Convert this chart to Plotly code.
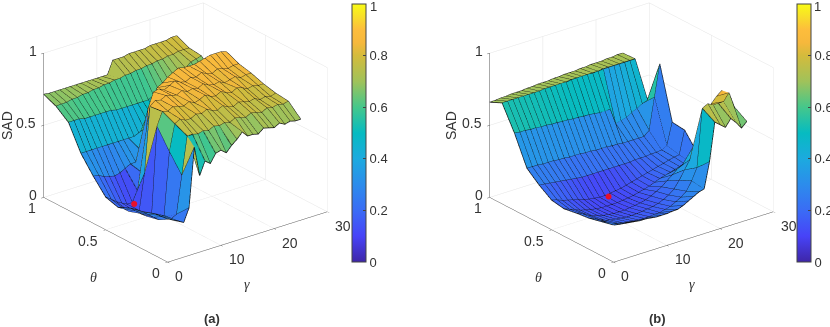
import plotly.graph_objects as go

GAMMA = list(range(26))
THETA = [0, .1, .2, .3, .4, .5, .6, .7, .8, .9, 1]
GAMMA_TICKS = [0, 10, 20, 30]
THETA_TICKS = [0, .5, 1]
Z_TICKS = [0, .5, 1]
CB_TICKS = [0, .2, .4, .6, .8]
RED_A = (3, .4, .19)
RED_B = (9.5, .45, .143)

SAD_A = [
 [.30,.28,.26,.24,.33,.74,.53,.62,.59,.65,.66,.63,.67,.70,.74,.70,.70,.69,.72,.71,.70,.72,.70,.71,.70,.70],
 [.29,.27,.25,.22,.24,.50,.76,.76,.75,.76,.75,.77,.76,.77,.76,.78,.77,.76,.78,.77,.76,.78,.77,.78,.77,.78],
 [.26,.23,.20,.17,.18,.62,.80,.82,.80,.80,.82,.81,.83,.81,.80,.82,.80,.79,.81,.80,.79,.80,.78,.79,.78,.79],
 [.24,.21,.18,.15,.15,.75,.84,.83,.85,.84,.83,.85,.83,.84,.86,.84,.83,.85,.83,.82,.84,.83,.81,.82,.81,.81],
 [.20,.18,.15,.14,.13,.38,.83,.86,.85,.87,.86,.85,.87,.85,.86,.85,.87,.85,.84,.85,.83,.84,.85,.83,.84,.84],
 [.226,.20,.17,.15,.13,.13,.20,.31,.75,.85,.86,.84,.86,.88,.86,.85,.87,.86,.88,.86,.85,.87,.86,.85,.86,.86],
 [.326,.32,.30,.29,.28,.29,.31,.33,.33,.40,.55,.70,.80,.82,.85,.87,.89,.88,.88,.88,.89,.90,.91,.91,.91,.90],
 [.44,.44,.44,.44,.44,.44,.44,.44,.44,.44,.44,.44,.46,.48,.50,.52,.54,.56,.58,.60,.62,.64,.65,.66,.67,.68],
 [.61,.61,.61,.60,.60,.60,.60,.60,.60,.59,.59,.59,.59,.59,.59,.59,.61,.63,.65,.67,.69,.71,.73,.76,.77,.78],
 [.677,.68,.68,.69,.69,.70,.70,.71,.71,.72,.72,.73,.73,.74,.74,.75,.75,.76,.76,.77,.77,.78,.78,.79,.79,.79],
 [.715,.71,.71,.71,.71,.71,.71,.71,.71,.71,.71,.71,.71,.80,.80,.80,.81,.81,.81,.81,.82,.82,.82,.82,.83,.83],
]
SAD_B = [
 [.257,.25,.245,.24,.235,.23,.23,.225,.22,.22,.22,.225,.226,.24,.26,.28,.30,.31,.486,.75,.72,.69,.74,.70,.65,.684],
 [.236,.22,.20,.19,.18,.175,.17,.165,.165,.165,.17,.17,.18,.19,.21,.23,.26,.32,.40,.80,.82,.80,.80,.80,.85,.74],
 [.215,.20,.18,.165,.155,.15,.145,.14,.14,.14,.145,.15,.155,.165,.18,.20,.23,.28,.34,.40,.50,.58,.64,.74,.78,.81],
 [.205,.19,.17,.15,.14,.13,.125,.12,.12,.12,.125,.13,.135,.145,.16,.18,.20,.23,.26,.29,.31,.33,.35,.37,.39,.40],
 [.19,.175,.16,.145,.135,.125,.12,.115,.115,.115,.115,.12,.125,.13,.14,.15,.16,.175,.19,.20,.21,.215,.22,.225,.23,.29],
 [.205,.195,.18,.17,.16,.15,.14,.13,.125,.12,.12,.125,.13,.135,.145,.155,.165,.175,.185,.195,.205,.215,.225,.235,.24,.40],
 [.264,.26,.255,.25,.245,.24,.235,.23,.225,.225,.225,.225,.225,.225,.225,.225,.225,.225,.23,.23,.23,.235,.235,.24,.26,.41],
 [.337,.335,.335,.33,.33,.33,.325,.325,.32,.32,.32,.315,.315,.31,.31,.31,.305,.305,.30,.30,.30,.30,.30,.33,.55,.77],
 [.535,.53,.53,.525,.525,.52,.52,.515,.515,.51,.51,.505,.505,.50,.50,.495,.49,.49,.49,.38,.39,.40,.42,.44,.46,.476],
 [.70,.70,.70,.70,.70,.70,.70,.70,.705,.705,.705,.705,.705,.71,.71,.71,.71,.71,.71,.715,.715,.715,.715,.715,.715,.715],
 [.66,.66,.665,.665,.67,.67,.67,.675,.675,.68,.68,.68,.685,.685,.69,.69,.69,.695,.695,.70,.70,.70,.705,.705,.71,.71],
]

PARULA = [[0,'#3E26A8'],[.1,'#4743F8'],[.2,'#3A6CF5'],[.3,'#2C8CEC'],[.4,'#1CAADF'],[.5,'#06BBC1'],
          [.6,'#45C78B'],[.7,'#A0C25A'],[.8,'#D4BB3C'],[.85,'#F6B83C'],[.9,'#FDBD3C'],[.95,'#F8DE2A'],[1,'#F9FB15']]

def panel(Z, scene, red, cbx):
    xs, ys, zs = [], [], []
    for i, t in enumerate(THETA):
        for j, g in enumerate(GAMMA):
            xs.append(g); ys.append(t); zs.append(Z[i][j])
    nc = len(GAMMA)
    I, J, K, C = [], [], [], []
    for i in range(len(THETA) - 1):
        for j in range(nc - 1):
            a = i*nc + j; b = a + 1; c = a + nc + 1; d = a + nc
            I += [a, a]; J += [b, c]; K += [c, d]
            C += [Z[i][j], Z[i][j]]
    mesh = go.Mesh3d(x=xs, y=ys, z=zs, i=I, j=J, k=K, intensity=C, intensitymode='cell',
                     colorscale=PARULA, cmin=0, cmax=1, scene=scene, flatshading=True, hoverinfo='skip', showscale=False,
                     lighting=dict(ambient=1, diffuse=0, specular=0, roughness=1, fresnel=0))
    lx, ly, lz = [], [], []
    for i, t in enumerate(THETA):
        for j, g in enumerate(GAMMA):
            lx.append(g); ly.append(t); lz.append(Z[i][j])
        lx.append(None); ly.append(None); lz.append(None)
    for j, g in enumerate(GAMMA):
        for i, t in enumerate(THETA):
            lx.append(g); ly.append(t); lz.append(Z[i][j])
        lx.append(None); ly.append(None); lz.append(None)
    grid = go.Scatter3d(x=lx, y=ly, z=lz, mode='lines', line=dict(color='#111', width=1.5), scene=scene,
                        hoverinfo='skip', showlegend=False)
    dot = go.Scatter3d(x=[red[0]], y=[red[1]], z=[red[2]], mode='markers', marker=dict(color='#E8102A', size=3.5),
                       scene=scene, hoverinfo='skip', showlegend=False)
    bar = go.Scatter3d(x=[0, 0], y=[0, 0], z=[0, 0], mode='markers', scene=scene, hoverinfo='skip', showlegend=False,
                       marker=dict(size=1, opacity=0, color=[0, 1], cmin=0, cmax=1, colorscale=PARULA, showscale=True,
                                   colorbar=dict(x=cbx, xanchor='left', y=1-4/327, yanchor='top', len=258, lenmode='pixels',
                                   thickness=14, thicknessmode='pixels', tickvals=CB_TICKS, ticktext=['0','0.2','0.4','0.6','0.8'],
                                   ticks='inside', ticklen=3, tickcolor='#444', outlinecolor='#444', outlinewidth=1,
                                   tickfont=dict(family='Liberation Sans', size=13, color='#333'), xpad=0, ypad=0)))
    return [mesh, grid, dot, bar]

def axis(rng, vals):
    return dict(range=rng, tickvals=vals, showticklabels=False, title=dict(text=''), showbackground=False,
                gridcolor='#E4E4E4', gridwidth=1, showline=True, linecolor='#555', linewidth=1,
                ticks='outside', ticklen=3, tickcolor='#555', zeroline=False, showspikes=False)

def lab(x, y, z, text, xs, ys):
    return dict(x=x, y=y, z=z, text=text, showarrow=False, xshift=xs, yshift=-ys,
                font=dict(family='Liberation Sans', size=14, color='#333'))

def tick_notes():
    out = []
    for g in GAMMA_TICKS:
        out.append(lab(g, 0, 0, str(g), 16 if g else 11, 14))
    for t in THETA_TICKS:
        out.append(lab(0, t, 0, f'{t:g}', -18 if t == .5 else -12, 11))
    for z in Z_TICKS:
        out.append(lab(0, 1, z, f'{z:g}', -18 if z == .5 else -11, -2))
    return out

def scene_cfg(dom_x):
    return dict(domain=dict(x=dom_x, y=[.1896, 1]), aspectmode='manual', aspectratio=dict(x=1.5255, y=1.5255, z=1.1906),
                camera=dict(projection=dict(type='orthographic'), eye=dict(x=-1.12, y=-1.44, z=.81),
                            center=dict(x=0, y=0, z=0), up=dict(x=0, y=0, z=1)),
                xaxis=axis([0, 30], GAMMA_TICKS),
                yaxis=axis([0, 1], THETA_TICKS),
                zaxis=axis([0, 1], Z_TICKS),
                annotations=tick_notes())

def note(x, y, text, size=14, family='Liberation Sans', angle=0):
    return dict(x=x/830, y=1-y/327, xref='paper', yref='paper', text=text, showarrow=False, textangle=angle,
                xanchor='center', yanchor='middle', font=dict(family=family, size=size, color='#333'))

fig = go.Figure(panel(SAD_A, 'scene', RED_A, 352/830) + panel(SAD_B, 'scene2', RED_B, 797/830))
fig.update_layout(width=830, height=327, margin=dict(l=0, r=0, t=0, b=0, autoexpand=False), paper_bgcolor='white', showlegend=False,
                  scene=scene_cfg([0, .447]), scene2=scene_cfg([.5361, .9855]),
                  annotations=[note(7, 126, 'SAD', angle=-90), note(451, 126, 'SAD', angle=-90),
                               note(93, 277, '<i>θ</i>', family='Liberation Serif'), note(538, 277, '<i>θ</i>', family='Liberation Serif'),
                               note(247, 284, '<i>γ</i>', family='Liberation Serif'), note(692, 284, '<i>γ</i>', family='Liberation Serif'),
                               note(212, 318, '<b>(a)</b>', size=13), note(657, 318, '<b>(b)</b>', size=13),
                               note(373, 6, '1', size=13), note(817, 6, '1', size=13)])
fig.write_html('out.html', post_script="document.body.style.margin='0';", config=dict(displayModeBar=False))
